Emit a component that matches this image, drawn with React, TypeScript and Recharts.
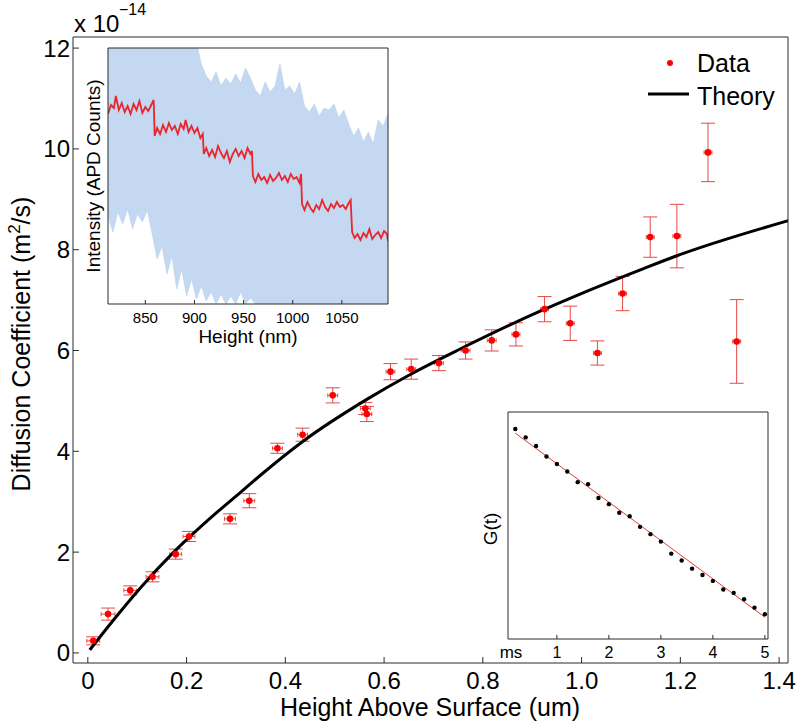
import React from 'react'
import { ComposedChart, Line, Scatter, Area, XAxis, YAxis, ErrorBar } from 'recharts'

const FONT = '"Liberation Sans", Arial, Helvetica, sans-serif'
const AXIS = '#2b2b2b'

// main plot: diffusion coefficient (x 1e-14 m^2/s) vs height (um)
const heightUm = [0.011, 0.041, 0.086, 0.131, 0.178, 0.205, 0.288, 0.327, 0.384, 0.435, 0.496, 0.562, 0.565, 0.613, 0.655, 0.711, 0.765, 0.818, 0.867, 0.925, 0.977, 1.032, 1.083, 1.139, 1.193, 1.256, 1.314]
const diffusion = [0.24, 0.77, 1.24, 1.51, 1.96, 2.31, 2.66, 3.02, 4.06, 4.33, 5.11, 4.85, 4.74, 5.58, 5.63, 5.75, 6.0, 6.2, 6.32, 6.82, 6.54, 5.95, 7.13, 8.25, 8.27, 9.93, 6.18]
const diffErr = [0.08, 0.12, 0.09, 0.1, 0.1, 0.1, 0.1, 0.14, 0.1, 0.13, 0.15, 0.12, 0.15, 0.16, 0.2, 0.15, 0.17, 0.21, 0.23, 0.25, 0.34, 0.24, 0.34, 0.4, 0.63, 0.58, 0.83]
const heightErr = [0.013, 0.014, 0.013, 0.013, 0.012, 0.012, 0.011, 0.011, 0.01, 0.01, 0.01, 0.01, 0.01, 0.009, 0.009, 0.009, 0.009, 0.009, 0.008, 0.008, 0.008, 0.008, 0.008, 0.008, 0.008, 0.008, 0.008]

const theoryX = [0.004, 0.041, 0.109, 0.176, 0.244, 0.311, 0.349, 0.436, 0.565, 0.652, 0.754, 0.916, 0.997, 1.119, 1.193, 1.42]
const theoryD = [0.06, 0.52, 1.32, 2.02, 2.64, 3.2, 3.52, 4.2, 5.03, 5.52, 6.03, 6.78, 7.12, 7.6, 7.88, 8.58]

const xTicks = [0, 0.2, 0.4, 0.6, 0.8, 1.0, 1.2, 1.4]
const yTicks = [0, 2, 4, 6, 8, 10, 12]

// inset 1: intensity trace vs height (nm)
const traceNm = [812, 815, 818, 820, 823, 826, 829, 832, 835, 838, 841, 844, 847, 850, 853, 856, 858.5,
  859.5, 862, 865, 868, 871, 874, 877, 880, 883, 886, 889, 891, 894, 897, 900, 903, 906, 908.5,
  909.5, 912, 915, 918, 921, 924, 927, 930, 933, 936, 939, 942, 945, 948, 951, 954, 957, 958.5,
  959.5, 962, 965, 968, 971, 974, 977, 980, 983, 986, 989, 992, 995, 998, 1001, 1004, 1007, 1008.5,
  1009.5, 1012, 1015, 1018, 1021, 1024, 1027, 1030, 1033, 1036, 1039, 1042, 1045, 1048, 1051, 1054, 1057, 1059,
  1060.5, 1063, 1066, 1069, 1072, 1075, 1078, 1081, 1084, 1087, 1090, 1093, 1096, 1097]
const traceCounts = [190, 199, 196, 208, 194, 201, 192, 198, 190, 200, 194, 203, 191, 197, 193, 199, 204,
  168, 176, 170, 179, 172, 181, 174, 178, 170, 180, 175, 184, 172, 178, 171, 176, 166, 170,
  150, 156, 148, 154, 147, 158, 151, 146, 153, 142, 150, 155, 148, 153, 146, 156, 150, 153,
  128, 122, 130, 124, 127, 121, 129, 123, 126, 131, 124, 128, 122, 130, 125, 127, 121, 130,
  100, 94, 102, 96, 92, 99, 95, 104, 97, 93, 100, 96, 102, 97, 99, 95, 101, 104,
  72, 66, 70, 64, 71, 67, 75, 65, 69, 72, 66, 73, 70, 63]

const bandNm = [812, 817, 822, 827, 832, 837, 842, 847, 852, 857, 862, 867, 872, 877, 882, 887, 892, 897, 902, 907,
  912, 917, 922, 927, 932, 937, 942, 947, 952, 957, 962, 967, 972, 977, 982, 987, 992, 997, 1002, 1007,
  1012, 1017, 1022, 1027, 1032, 1037, 1042, 1047, 1052, 1057, 1062, 1067, 1072, 1077, 1082, 1087, 1092, 1097]
const bandLow = [88, 72, 92, 80, 95, 75, 90, 82, 94, 70, 45, 58, 30, 48, 15, 35, 8, 25, 5, 18,
  3, 12, 0, 10, 0, 8, 0, 12, 0, 6, 0, 0, 0, 0, 0, 0, 0, 0, 0, 0,
  0, 0, 0, 0, 0, 0, 0, 0, 0, 0, 0, 0, 0, 0, 0, 0, 0, 0]
const bandHigh = [270, 270, 270, 270, 270, 270, 270, 270, 270, 270, 270, 270, 270, 270, 270, 270, 270, 270, 262, 240,
  228, 222, 232, 218, 226, 220, 230, 221, 236, 226, 214, 208, 222, 212, 218, 240, 214, 218, 210, 222,
  198, 192, 200, 188, 196, 194, 200, 186, 194, 180, 168, 176, 162, 172, 160, 184, 178, 190]
const nmTicks = [850, 900, 950, 1000, 1050]

// inset 2: correlation G(t) vs lag (ms)
const lagMs = [0.2, 0.4, 0.6, 0.8, 1.0, 1.2, 1.4, 1.6, 1.8, 2.0, 2.2, 2.4, 2.6, 2.8, 3.0, 3.2, 3.4, 3.6, 3.8, 4.0, 4.2, 4.4, 4.6, 4.8, 5.0]
const gValues = [9.25, 8.88, 8.5, 8.04, 7.71, 7.38, 6.91, 6.82, 6.21, 5.94, 5.56, 5.41, 4.94, 4.62, 4.29, 3.76, 3.46, 3.1, 2.82, 2.56, 2.18, 2.03, 1.75, 1.38, 1.09]
const fitMs = [0.2, 5.0]
const fitG = [9.07, 0.96]
const msTicks = [1, 2, 3, 4, 5]

const mainRows = heightUm.map((x, i) => ({ x, y: diffusion[i], ey: diffErr[i], ex: heightErr[i] }))
const theoryRows = theoryX.map((x, i) => ({ x, d: theoryD[i] }))
const traceRows = traceNm.map((h, i) => ({ h, v: traceCounts[i] }))
const bandRows = bandNm.map((h, i) => ({ h, band: [bandLow[i], bandHigh[i]] }))
const gRows = lagMs.map((t, i) => ({ t, g: gValues[i] }))
const fitRows = fitMs.map((t, i) => ({ t, f: fitG[i] }))

const X_DOM: [number, number] = [-0.03, 1.418]
const Y_DOM: [number, number] = [-0.2, 12.22]

const fmtX = (v: number) => (v === 0 ? '0' : v.toFixed(1))

function MainChart() {
  return (
    <ComposedChart width={796} height={724} margin={{ top: 36, right: 7, bottom: 0, left: 0 }}>
      <XAxis dataKey="x" type="number" domain={X_DOM} allowDataOverflow ticks={xTicks} tickFormatter={fmtX}
        height={61} tickSize={-6} tickMargin={15} stroke={AXIS} tick={{ fill: '#000', fontSize: 24 }}
        label={() => <text x={430} y={716} textAnchor="middle" fontSize={25} fill="#000">Height Above Surface (um)</text>} />
      <XAxis xAxisId="top" orientation="top" type="number" domain={X_DOM} allowDataOverflow ticks={xTicks}
        height={1} tickSize={-6} tick={false} stroke={AXIS} />
      <YAxis type="number" domain={Y_DOM} allowDataOverflow ticks={yTicks} width={73} tickSize={-6} tickMargin={9}
        stroke={AXIS} tick={{ fill: '#000', fontSize: 24 }}
        label={() => (
          <text x={30} y={344} transform="rotate(-90 30 344)" textAnchor="middle" fontSize={25} fill="#000">
            Diffusion Coefficient (m<tspan dy={-10} fontSize={17}>2</tspan><tspan dy={10}>/s)</tspan>
          </text>
        )} />
      <YAxis yAxisId="right" orientation="right" type="number" domain={Y_DOM} allowDataOverflow ticks={yTicks}
        width={1} tickSize={-6} tick={false} stroke={AXIS} />
      <Scatter data={mainRows} dataKey="y" isAnimationActive={false}
        shape={(p: any) => <circle cx={p.cx} cy={p.cy} r={3.3} fill="#ff0000" />}>
        <ErrorBar dataKey="ey" direction="y" width={7} stroke="#e5494b" strokeWidth={1} />
        <ErrorBar dataKey="ex" direction="x" width={2} stroke="#e5494b" strokeWidth={1} />
      </Scatter>
      <Line data={theoryRows} dataKey="d" type="monotone" stroke="#000" strokeWidth={3} dot={false}
        isAnimationActive={false} />
    </ComposedChart>
  )
}

function TraceInset() {
  return (
    <ComposedChart width={345} height={310} margin={{ top: 7, right: 6, bottom: 0, left: 0 }}>
      <XAxis dataKey="h" type="number" domain={[812, 1097]} allowDataOverflow ticks={nmTicks} height={46}
        tickSize={-4} tickMargin={12} stroke={AXIS} tick={{ fill: '#000', fontSize: 15 }}
        label={() => <text x={198} y={303} textAnchor="middle" fontSize={19} fill="#000">Height (nm)</text>} />
      <XAxis xAxisId="top" orientation="top" type="number" domain={[812, 1097]} allowDataOverflow ticks={nmTicks}
        height={1} tickSize={-4} tick={false} stroke={AXIS} />
      <YAxis type="number" domain={[0, 256]} allowDataOverflow width={58} tick={false} tickLine={false} stroke={AXIS}
        label={() => (
          <text x={49.5} y={136} transform="rotate(-90 49.5 136)" textAnchor="middle" fontSize={19} fill="#000">
            Intensity (APD Counts)
          </text>
        )} />
      <YAxis yAxisId="right" orientation="right" type="number" domain={[0, 256]} allowDataOverflow width={1}
        tick={false} tickLine={false} stroke={AXIS} />
      <Area data={bandRows} dataKey="band" type="linear" fill="#c4d9f1" fillOpacity={1} stroke="#b9d0ee"
        strokeWidth={0.6} isAnimationActive={false} />
      <Line data={traceRows} dataKey="v" type="linear" stroke="#e8262b" strokeWidth={1.8} dot={false}
        isAnimationActive={false} />
    </ComposedChart>
  )
}

function CorrelationInset() {
  return (
    <ComposedChart width={310} height={285} margin={{ top: 11, right: 11, bottom: 0, left: 0 }}>
      <XAxis dataKey="t" type="number" domain={[0.06, 5.06]} allowDataOverflow ticks={msTicks} height={46}
        tickSize={-4} tickMargin={12} stroke={AXIS} tick={{ fill: '#000', fontSize: 16 }}
        label={() => <text x={41} y={257.5} textAnchor="middle" fontSize={17} fill="#000">ms</text>} />
      <XAxis xAxisId="top" orientation="top" type="number" domain={[0.06, 5.06]} allowDataOverflow ticks={msTicks}
        height={1} tickSize={-4} tick={false} stroke={AXIS} />
      <YAxis type="number" domain={[0, 10]} allowDataOverflow width={38} tick={false} tickLine={false} stroke={AXIS}
        label={() => (
          <text x={26.5} y={129} transform="rotate(-90 26.5 129)" textAnchor="middle" fontSize={19} fill="#000">
            G(t)
          </text>
        )} />
      <YAxis yAxisId="right" orientation="right" type="number" domain={[0, 10]} allowDataOverflow width={1}
        tick={false} tickLine={false} stroke={AXIS} />
      <Line data={fitRows} dataKey="f" type="linear" stroke="#e03a3a" strokeWidth={1} dot={false}
        isAnimationActive={false} />
      <Scatter data={gRows} dataKey="g" isAnimationActive={false}
        shape={(p: any) => <circle cx={p.cx} cy={p.cy} r={2.2} fill="#000" />} />
    </ComposedChart>
  )
}

export default function App() {
  return (
    <div style={{ position: 'absolute', left: 0, top: 0, width: 796, height: 724, background: '#fff', fontFamily: FONT }}>
      <div style={{ position: 'absolute', left: 0, top: 0 }}>
        <MainChart />
      </div>
      <div style={{ position: 'absolute', left: 50, top: 40 }}>
        <TraceInset />
      </div>
      <div style={{ position: 'absolute', left: 470, top: 400 }}>
        <CorrelationInset />
      </div>
      <svg width={796} height={724} style={{ position: 'absolute', left: 0, top: 0, pointerEvents: 'none' }}>
        <text x={74} y={32} fontSize={24} fill="#000">x 10</text>
        <text x={119} y={15} fontSize={16} fill="#000">−14</text>
        <circle cx={670} cy={63} r={3} fill="#ff0000" />
        <text x={697} y={72} fontSize={25} fill="#000">Data</text>
        <line x1={648} x2={689} y1={94} y2={94} stroke="#000" strokeWidth={3} />
        <text x={697} y={105} fontSize={25} fill="#000">Theory</text>
      </svg>
    </div>
  )
}
